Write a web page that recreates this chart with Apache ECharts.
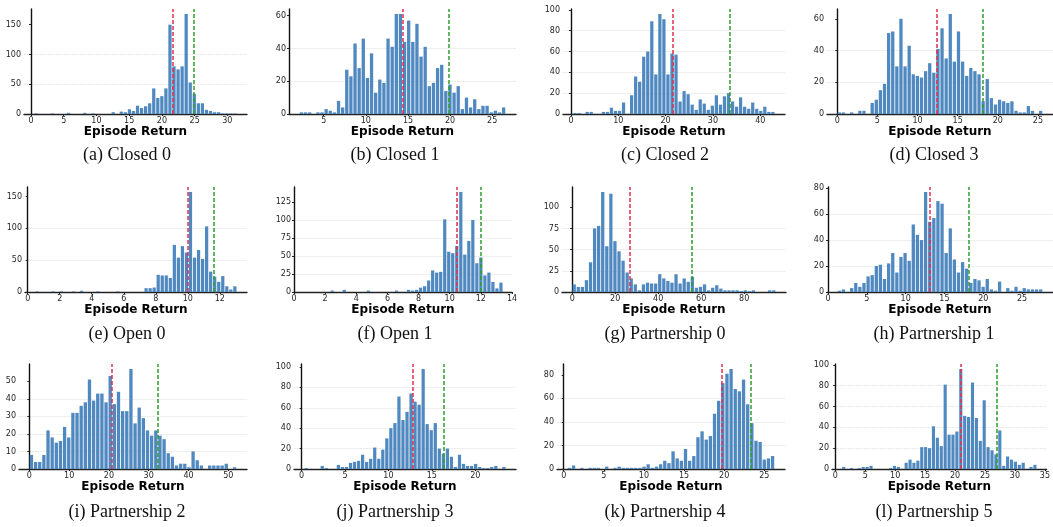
<!DOCTYPE html>
<html><head><meta charset="utf-8">
<script src="https://cdn.jsdelivr.net/npm/echarts@6/dist/echarts.min.js"></script>
<style>html,body{margin:0;padding:0;background:#fff}#c{width:1053px;height:527px}</style>
</head><body><div id="c"></div>
<script>
// ---------- data ----------
const panelTitles = ['(a) Closed 0','(b) Closed 1','(c) Closed 2','(d) Closed 3',
  '(e) Open 0','(f) Open 1','(g) Partnership 0','(h) Partnership 1',
  '(i) Partnership 2','(j) Partnership 3','(k) Partnership 4','(l) Partnership 5'];
const xAxisTitle = 'Episode Return';
// histogram bin edges (50 bins each)
const binLow  = [0.48, 2.1, 0.45, 0, 0.46, 0.52, 0, 1.185, 0, 0.28, 0.46, 1.09];
const binHigh = [31.45, 26.6, 43.1, 25.6, 13.07, 13.42, 94.7, 27.665, 52.1, 23.53, 26.29, 33.66];
const closed0 = [1,0,0,0,1,0,0,0,2,0,0,0,2,0,1,0,0,0,0,3,0,4,3,8,5,14,10,13,18,43,27,30,43,150,80,75,80,168,53,34,18,18,7,5,3,3,1,1,1,1];
const closed1 = [1,1,1,0,1,1,3,2,1,8,4,27,23,43,28,46,22,37,13,21,19,46,41,61,61,44,57,44,55,35,41,17,19,28,30,14,18,13,17,3,10,4,9,3,5,5,1,2,1,4];
const closed2 = [1,1,0,2,2,0,0,2,2,6,3,3,11,0,18,36,31,55,60,89,38,96,91,38,58,57,12,22,19,9,4,14,10,4,8,18,9,17,20,12,7,16,7,5,11,5,3,7,2,2];
const closed3 = [1,1,0,1,0,2,2,0,7,9,15,19,51,52,30,60,30,43,25,24,23,27,32,26,41,54,35,63,33,52,33,24,29,27,25,8,22,10,6,9,8,7,8,2,1,1,5,2,0,2];
const open0 = [1,0,0,0,1,0,1,0,0,1,0,2,0,0,0,1,0,0,0,0,1,0,0,0,0,0,0,6,6,7,27,26,26,22,74,54,72,62,157,54,66,52,103,32,24,16,25,9,4,9];
const open1 = [0,0,0,0,0,0,0,2,0,0,3,0,0,0,0,0,2,0,0,0,0,0,0,2,0,0,3,2,3,6,8,16,30,27,28,101,56,54,64,139,52,71,100,40,48,23,27,14,5,13];
const partner0 = [9,6,6,14,35,75,78,118,54,116,60,48,37,23,16,9,2,9,11,10,10,21,16,13,11,21,10,16,12,18,5,6,9,2,5,8,4,2,2,2,2,1,2,1,2,0,0,0,2,2];
const partner1 = [1,2,0,3,7,4,7,12,13,20,21,10,22,30,15,27,30,24,52,44,40,77,54,57,70,68,30,49,25,15,23,18,7,10,9,4,10,2,1,8,0,3,1,4,1,3,2,2,2,2];
const partner2 = [8,4,4,8,22,18,15,16,24,18,32,32,36,38,51,39,43,43,38,53,37,44,33,33,57,26,35,29,22,19,22,19,17,9,7,2,3,3,1,10,5,2,0,2,2,2,2,3,0,1];
const partner3 = [1,0,0,0,3,1,0,0,4,2,2,6,7,8,14,7,10,21,10,19,30,40,45,71,48,56,74,66,63,98,44,38,45,20,15,20,12,2,14,5,3,3,5,2,1,1,2,3,0,2];
const partner4 = [1,3,0,1,0,1,1,1,0,2,0,1,2,1,1,1,1,1,2,4,1,2,4,7,5,15,9,7,17,7,11,27,32,25,28,47,58,73,81,85,68,66,76,55,39,24,23,8,9,11];
const partner5 = [2,0,1,0,1,2,2,3,0,0,0,0,1,3,2,0,6,9,6,8,21,21,20,41,30,22,81,33,33,36,96,51,50,83,49,27,66,21,18,14,37,3,12,9,7,4,6,0,2,4];
const counts = [closed0, closed1, closed2, closed3, open0, open1, partner0, partner1, partner2, partner3, partner4, partner5];
const redLine   = [21.66, 14.39, 21.55, 12.38, 9.98, 10.43, 26.8, 13.08, 20.6, 12.77, 19.72, 20.97];
const greenLine = [24.9, 19.82, 33.66, 18.11, 11.65, 12.0, 55.6, 18.16, 32.2, 16.42, 23.34, 27.0];
const xTicks = [
  [0,5,10,15,20,25,30],[5,10,15,20,25],[0,10,20,30,40],[0,5,10,15,20,25],
  [0,2,4,6,8,10,12],[0,2,4,6,8,10,12,14],[0,20,40,60,80],[0,5,10,15,20,25],
  [0,10,20,30,40,50],[0,5,10,15,20],[0,5,10,15,20,25],[0,5,10,15,20,25,30,35]];
const yTicks = [
  [0,50,100,150],[0,20,40,60],[0,20,40,60,80,100],[0,20,40,60],
  [0,50,100,150],[0,25,50,75,100,125],[0,25,50,75,100],[0,20,40,60,80],
  [0,10,20,30,40,50],[0,20,40,60,80,100],[0,20,40,60,80],[0,20,40,60,80,100]];
const fixedXRange = {5: [0, 14]};

// ---------- layout ----------
const gridLeft  = [24, 289, 563, 827, 25, 294, 562, 827, 19, 294, 557, 832];
const gridWidth = [223, 227, 222, 226, 222, 218, 224, 227, 228, 222, 228, 220];
const rowTop = [9, 187, 364];
const plotH = 105;
const capX = [127, 395, 665, 934];
const capY = [155.5, 334, 512.5];

const grids = [], xAxes = [], yAxes = [], series = [], graphics = [];
const tickFont = {fontFamily: 'DejaVu Sans', fontSize: 8, color: '#262626'};
for (let p = 0; p < 12; p++) {
  const row = Math.floor(p / 4), col = p % 4;
  grids.push({left: gridLeft[p], top: rowTop[row], width: gridWidth[p], height: plotH});
  const lo = binLow[p], hi = binHigh[p], n = counts[p].length, w = (hi - lo) / n, span = hi - lo;
  const xr = fixedXRange[p] || [lo - 0.05 * span, hi + 0.05 * span];
  xAxes.push({
    type: 'value', gridIndex: p, min: xr[0], max: xr[1],
    name: xAxisTitle, nameLocation: 'middle', nameGap: 10,
    nameTextStyle: {fontFamily: 'DejaVu Sans', fontWeight: 'bold', fontSize: 12, color: '#000'},
    axisLine: {show: true, onZero: false, lineStyle: {color: '#222', width: 1.4}},
    axisTick: {show: true, length: 2, customValues: xTicks[p], lineStyle: {color: '#222'}},
    axisLabel: Object.assign({customValues: xTicks[p], margin: 3}, tickFont),
    splitLine: {show: false}
  });
  const ymax = Math.max(...counts[p]) * 1.05;
  const step = yTicks[p][1] - yTicks[p][0];
  yAxes.push({
    type: 'value', gridIndex: p, min: 0, max: ymax, interval: step,
    axisLine: {show: true, lineStyle: {color: '#111', width: 1.4}},
    axisTick: {show: true, length: 2, customValues: yTicks[p], lineStyle: {color: '#222'}},
    axisLabel: Object.assign({customValues: yTicks[p], margin: 3}, tickFont),
    splitLine: {show: true, showMaxLine: false, showMinLine: false,
      lineStyle: {color: '#d6d6d6', type: 'dotted', width: 0.8}}
  });
  const data = counts[p].map((c, i) => [lo + (i + 0.5) * w, c]);
  series.push({
    type: 'bar', xAxisIndex: p, yAxisIndex: p, data: data, barWidth: '80%',
    itemStyle: {color: '#5088c0'}, silent: true, animation: false,
    markLine: {
      symbol: 'none', silent: true, animation: false, label: {show: false},
      lineStyle: {type: [4, 2], width: 1.5},
      data: [
        {xAxis: redLine[p], lineStyle: {color: '#e0304e', type: [4, 2], width: 1.5}},
        {xAxis: greenLine[p], lineStyle: {color: '#2e9e2e', type: [4, 2], width: 1.5}}
      ]
    }
  });
  graphics.push({
    type: 'text', x: capX[col], y: capY[row], silent: true,
    style: {text: panelTitles[p], font: '18px "Liberation Serif"', fill: '#111',
      align: 'center', verticalAlign: 'middle', textAlign: 'center', textVerticalAlign: 'middle'}
  });
}

const chart = echarts.init(document.getElementById('c'), null, {renderer: 'canvas'});
chart.setOption({
  animation: false,
  backgroundColor: '#fff',
  grid: grids, xAxis: xAxes, yAxis: yAxes, series: series, graphic: graphics
});
</script></body></html>
